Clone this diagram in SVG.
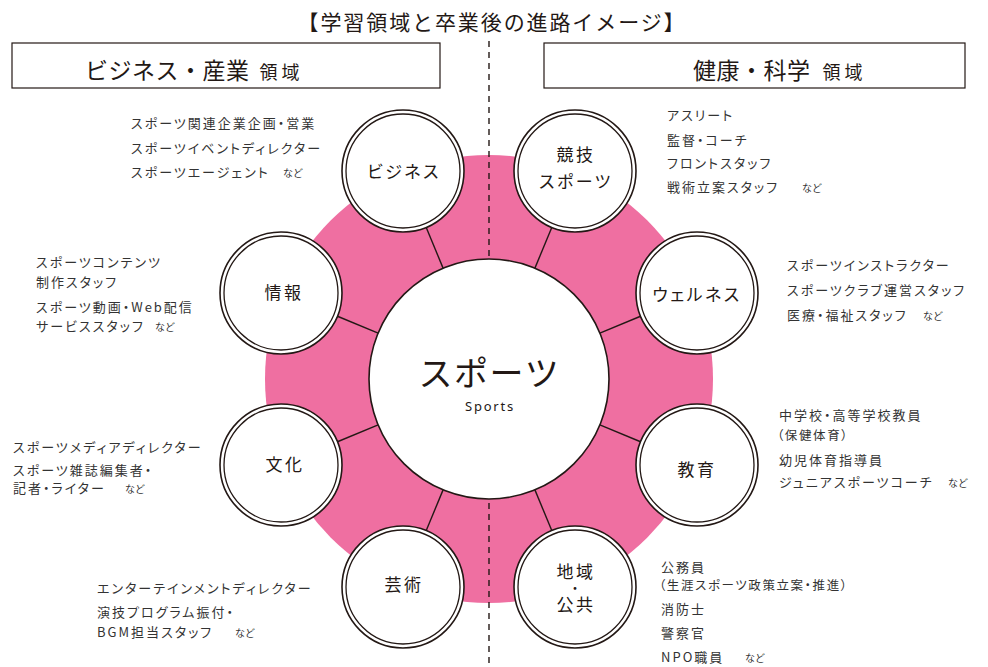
<svg xmlns="http://www.w3.org/2000/svg" width="988" height="667" viewBox="0 0 988 667">
<style>
text{font-family:"Noto Sans CJK JP","Noto Sans",sans-serif;fill:#231815}
.t{font-size:21px;letter-spacing:1.9px}
.h{font-size:23px;letter-spacing:0.5px}
.hs{font-size:18px;letter-spacing:4px}
.l{font-size:13px;letter-spacing:2px;fill:#333;font-feature-settings:"palt"}
.p{font-size:12.5px;letter-spacing:1.6px;fill:#333;font-feature-settings:"palt"}
.s{font-size:10px;fill:#333}
.n{font-size:17px;letter-spacing:2.5px;text-anchor:middle;font-feature-settings:"palt"}
.box{fill:#fff;stroke:#231815;stroke-width:1.2}
.ro{fill:#fff;stroke:#231815;stroke-width:1.6}
.ri{fill:none;stroke:#231815;stroke-width:1.3}
.sp{stroke:#231815;stroke-width:1.4}
</style>
<rect width="988" height="667" fill="#fff"/>
<text class="t" x="492" y="30" text-anchor="middle">【学習領域と卒業後の進路イメージ】</text>
<g id="header-left">
<rect class="box" x="12" y="43" width="428" height="45"/>
<text x="85" y="79"><tspan class="h">ビジネス・産業</tspan><tspan class="hs" dx="10">領域</tspan></text>
</g>
<g id="header-right">
<rect class="box" x="544" y="43" width="421" height="45"/>
<text x="693" y="79"><tspan class="h">健康・科学</tspan><tspan class="hs" dx="12">領域</tspan></text>
</g>
<circle id="ring" cx="489" cy="379" r="224" fill="#ef6fa1"/>
<line x1="489" y1="41" x2="489" y2="667" stroke="#231815" stroke-width="1.4" stroke-dasharray="6 5"/>
<g id="connectors" class="sp">
<line x1="534.92" y1="268.13" x2="551.76" y2="227.48"/>
<line x1="599.87" y1="333.08" x2="640.52" y2="316.24"/>
<line x1="599.87" y1="424.92" x2="640.52" y2="441.76"/>
<line x1="534.92" y1="489.87" x2="551.76" y2="530.52"/>
<line x1="443.08" y1="268.13" x2="426.24" y2="227.48"/>
<line x1="378.13" y1="333.08" x2="337.48" y2="316.24"/>
<line x1="378.13" y1="424.92" x2="337.48" y2="441.76"/>
<line x1="443.08" y1="489.87" x2="426.24" y2="530.52"/>
</g>
<g id="center">
<circle cx="489" cy="379" r="120" fill="#fff" stroke="#231815" stroke-width="1.6"/>
<text x="490" y="386" text-anchor="middle" font-size="34" letter-spacing="3" style="font-feature-settings:'palt'">スポーツ</text>
<text x="490" y="411" text-anchor="middle" font-size="13" letter-spacing="1.8" style="font-family:'Noto Sans',sans-serif">Sports</text>
</g>
<g id="business">
<circle class="ro" cx="403" cy="171" r="61"/><circle class="ri" cx="403" cy="171" r="57"/>
<text class="n" x="404" y="178">ビジネス</text>
<text class="l" x="131" y="128">スポーツ関連企業企画・営業</text>
<text class="l" x="131" y="153">スポーツイベントディレクター</text>
<text class="l" x="131" y="177">スポーツエージェント</text>
<text class="s" x="283" y="177">など</text>
</g>
<g id="kyogi">
<circle class="ro" cx="575" cy="171" r="61"/><circle class="ri" cx="575" cy="171" r="57"/>
<text class="n" x="576" y="161">競技<tspan x="576" dy="27">スポーツ</tspan></text>
<text class="l" x="667" y="120">アスリート</text>
<text class="l" x="667" y="145">監督・コーチ</text>
<text class="l" x="667" y="168">フロントスタッフ</text>
<text class="l" x="667" y="192">戦術立案スタッフ</text>
<text class="s" x="802" y="192">など</text>
</g>
<g id="joho">
<circle class="ro" cx="281" cy="293" r="61"/><circle class="ri" cx="281" cy="293" r="57"/>
<text class="n" x="284" y="299">情報</text>
<text class="l" x="36" y="267">スポーツコンテンツ</text>
<text class="l" x="36" y="287">制作スタッフ</text>
<text class="l" x="36" y="312">スポーツ動画・Web配信</text>
<text class="l" x="36" y="331">サービススタッフ</text>
<text class="s" x="155" y="331">など</text>
</g>
<g id="wellness">
<circle class="ro" cx="697" cy="293" r="61"/><circle class="ri" cx="697" cy="293" r="57"/>
<text class="n" x="697" y="301">ウェルネス</text>
<text class="l" x="787" y="270">スポーツインストラクター</text>
<text class="l" x="787" y="295">スポーツクラブ運営スタッフ</text>
<text class="l" x="787" y="320">医療・福祉スタッフ</text>
<text class="s" x="923" y="320">など</text>
</g>
<g id="bunka">
<circle class="ro" cx="281" cy="465" r="61"/><circle class="ri" cx="281" cy="465" r="57"/>
<text class="n" x="285" y="471">文化</text>
<text class="l" x="13" y="452">スポーツメディアディレクター</text>
<text class="l" x="13" y="475">スポーツ雑誌編集者・</text>
<text class="l" x="13" y="493">記者・ライター</text>
<text class="s" x="125" y="493">など</text>
</g>
<g id="kyoiku">
<circle class="ro" cx="697" cy="465" r="61"/><circle class="ri" cx="697" cy="465" r="57"/>
<text class="n" x="697" y="476">教育</text>
<text class="l" x="779" y="420">中学校・高等学校教員</text>
<text class="p" x="777" y="440">（保健体育）</text>
<text class="l" x="779" y="465">幼児体育指導員</text>
<text class="l" x="779" y="487">ジュニアスポーツコーチ</text>
<text class="s" x="948" y="487">など</text>
</g>
<g id="geijutsu">
<circle class="ro" cx="403" cy="587" r="61"/><circle class="ri" cx="403" cy="587" r="57"/>
<text class="n" x="404" y="591">芸術</text>
<text class="l" x="97" y="593">エンターテインメントディレクター</text>
<text class="l" x="97" y="617">演技プログラム振付・</text>
<text class="l" x="97" y="637">BGM担当スタッフ</text>
<text class="s" x="235" y="637">など</text>
</g>
<g id="chiiki">
<circle class="ro" cx="575" cy="587" r="61"/><circle class="ri" cx="575" cy="587" r="57"/>
<text class="n" x="576" y="578">地域<tspan x="575" dy="15" style="font-size:13px;letter-spacing:0">・</tspan><tspan x="576" dy="18">公共</tspan></text>
<text class="l" x="661" y="572">公務員</text>
<text class="p" x="659" y="590">（生涯スポーツ政策立案・推進）</text>
<text class="l" x="661" y="614">消防士</text>
<text class="l" x="661" y="638">警察官</text>
<text class="l" x="661" y="662">NPO職員</text>
<text class="s" x="745" y="662">など</text>
</g>
</svg>
